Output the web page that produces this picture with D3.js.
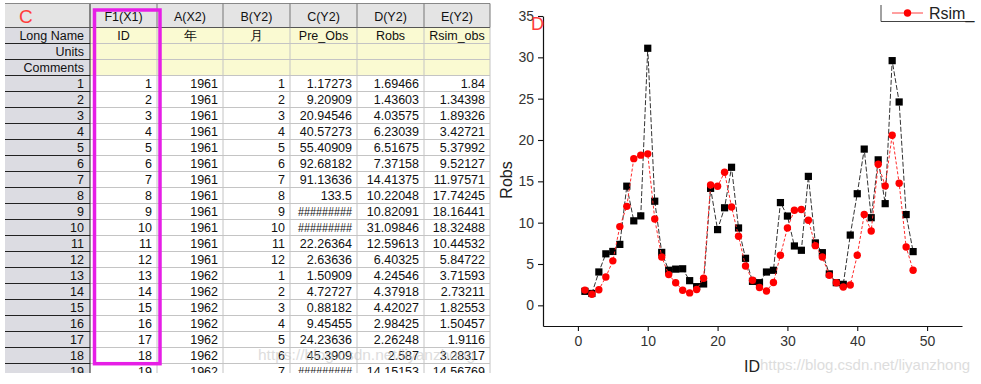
<!DOCTYPE html>
<html>
<head>
<meta charset="utf-8">
<script src="https://cdn.jsdelivr.net/npm/d3@7"></script>
<style>
body { margin: 0; background: #fff; }
svg { display: block; font-family: "Liberation Sans", Arial, sans-serif; }
</style>
</head>
<body>
<svg id="fig" width="981" height="384"></svg>
<script>
// worksheet (left panel)
var colHeads = ["F1(X1)", "A(X2)", "B(Y2)", "C(Y2)", "D(Y2)", "E(Y2)"];
var longNames = ["ID", "年", "月", "Pre_Obs", "Robs", "Rsim_obs"];
var metaRows = ["Long Name", "Units", "Comments"];
var years = [1961, 1961, 1961, 1961, 1961, 1961, 1961, 1961, 1961, 1961, 1961, 1961,
             1962, 1962, 1962, 1962, 1962, 1962, 1962];
var months = [1, 2, 3, 4, 5, 6, 7, 8, 9, 10, 11, 12, 1, 2, 3, 4, 5, 6, 7];
var preObs = ["1.17273", "9.20909", "20.94546", "40.57273", "55.40909", "92.68182", "91.13636",
              "133.5", "#########", "#########", "22.26364", "2.63636", "1.50909", "4.72727",
              "0.88182", "9.45455", "24.23636", "45.3909", "#########"];

// plot data (right panel)
var ids = [1, 2, 3, 4, 5, 6, 7, 8, 9, 10, 11, 12, 13, 14, 15, 16, 17, 18, 19, 20, 21, 22, 23, 24,
           25, 26, 27, 28, 29, 30, 31, 32, 33, 34, 35, 36, 37, 38, 39, 40, 41, 42, 43, 44, 45, 46, 47, 48];
var robs = [1.69466, 1.43603, 4.03575, 6.23039, 6.51675, 7.37158, 14.41375, 10.22048, 10.82091,
            31.09846, 12.59613, 6.40325, 4.24546, 4.37918, 4.42027, 2.98425, 2.26248, 2.587,
            14.15153, 9.16, 11.8, 16.7, 9.36, 5.69, 2.9, 2.74, 4.03, 4.24, 12.43, 10.8, 7.18, 6.66,
            15.6, 7.55, 6.37, 3.8, 2.74, 2.54, 8.5, 13.5, 18.9, 10.6, 17.6, 12.3, 29.6, 24.6, 10.98, 6.5];
var rsim = [1.84, 1.34398, 1.89326, 3.42721, 5.37992, 9.52127, 11.97571, 17.74245, 18.16441,
            18.32488, 10.44532, 5.84722, 3.71593, 2.73211, 1.82553, 1.50457, 1.9116, 3.28317,
            14.56769, 14.4, 16.1, 11.9, 8.35, 4.76, 3.03, 2.15, 1.74, 2.76, 6.05, 9.36, 11.5, 11.6,
            10.3, 7.22, 5.85, 3.63, 2.74, 2.22, 2.46, 6.05, 10.98, 9.0, 17.07, 14.45, 20.58, 14.77, 7.06, 4.24];
var xTicks = [0, 10, 20, 30, 40, 50];
var xMinor = [-5, 5, 15, 25, 35, 45, 55];
var yTicks = [0, 5, 10, 15, 20, 25, 30, 35];
var yMinor = [-2.5, 2.5, 7.5, 12.5, 17.5, 22.5, 27.5, 32.5];

var svg = d3.select("#fig");

// ---------- worksheet ----------
var colX = [5, 90, 157, 223, 290, 357, 424, 490];
var headTop = 3.5, headBot = 27.5, rowH = 16;
var metaTop = headBot, dataTop = headBot + rowH * metaRows.length;

svg.append("clipPath").attr("id", "sheetClip")
  .append("rect").attr("x", 0).attr("y", 0).attr("width", 495).attr("height", 373);
var sheet = svg.append("g").attr("clip-path", "url(#sheetClip)").style("font-size", "12.5px");

var rows = [];
for (var i = 0; i < years.length; i++) {
  rows.push([String(ids[i]), String(years[i]), String(months[i]), preObs[i], String(robs[i]), String(rsim[i])]);
}

// backgrounds
sheet.append("rect").attr("x", colX[0]).attr("y", headTop).attr("width", colX[7] - colX[0])
  .attr("height", headBot - headTop).attr("fill", "#e4e4e4");
sheet.append("rect").attr("x", colX[0]).attr("y", headBot).attr("width", colX[1] - colX[0])
  .attr("height", 384).attr("fill", "#dcdce2");
sheet.append("rect").attr("x", colX[1]).attr("y", metaTop).attr("width", colX[7] - colX[1])
  .attr("height", rowH * metaRows.length).attr("fill", "#fafad2");

// light grid in cell area
var nLines = metaRows.length + rows.length + 1;
var hl = [];
for (var k = 0; k <= nLines; k++) hl.push(metaTop + rowH * k);
sheet.selectAll(".hgrid").data(hl).enter().append("line")
  .attr("x1", colX[1]).attr("x2", colX[7]).attr("y1", d => d).attr("y2", d => d)
  .attr("stroke", "#c4c4c4").attr("stroke-width", 1);
sheet.selectAll(".vgrid").data(colX.slice(2)).enter().append("line")
  .attr("x1", d => d).attr("x2", d => d).attr("y1", headBot).attr("y2", 384)
  .attr("stroke", "#c4c4c4").attr("stroke-width", 1);
// dark lines in row header
sheet.selectAll(".hdark").data(hl).enter().append("line")
  .attr("x1", colX[0]).attr("x2", colX[1]).attr("y1", d => d).attr("y2", d => d)
  .attr("stroke", "#222").attr("stroke-width", 1);
sheet.append("line").attr("x1", colX[1]).attr("x2", colX[1]).attr("y1", headTop).attr("y2", 384)
  .attr("stroke", "#222").attr("stroke-width", 1);
// header borders
sheet.append("line").attr("x1", colX[0]).attr("x2", colX[7]).attr("y1", headTop).attr("y2", headTop)
  .attr("stroke", "#888");
sheet.append("line").attr("x1", colX[0]).attr("x2", colX[7]).attr("y1", headBot).attr("y2", headBot)
  .attr("stroke", "#555");
sheet.selectAll(".vhead").data(colX.slice(2)).enter().append("line")
  .attr("x1", d => d).attr("x2", d => d).attr("y1", headTop).attr("y2", headBot)
  .attr("stroke", "#777");

// header texts
sheet.append("text").attr("x", 19).attr("y", 23).attr("fill", "#ff3c3c")
  .style("font-size", "19px").text("C");
sheet.selectAll(".chead").data(colHeads).enter().append("text")
  .attr("x", (d, j) => (colX[j + 1] + colX[j + 2]) / 2).attr("y", headBot - 7)
  .attr("text-anchor", "middle").attr("fill", "#111").text(d => d);
sheet.selectAll(".lname").data(longNames).enter().append("text")
  .attr("x", (d, j) => (colX[j + 1] + colX[j + 2]) / 2).attr("y", metaTop + rowH - 3.5)
  .attr("text-anchor", "middle").attr("fill", "#111").text(d => d);
sheet.selectAll(".meta").data(metaRows).enter().append("text")
  .attr("x", colX[1] - 6).attr("y", (d, k) => metaTop + rowH * (k + 1) - 3.5)
  .attr("text-anchor", "end").attr("fill", "#111").text(d => d);

// data rows
var rg = sheet.selectAll(".row").data(rows).enter().append("g")
  .attr("transform", (d, i) => "translate(0," + (dataTop + rowH * (i + 1) - 3.5) + ")");
rg.append("text").attr("x", colX[1] - 6).attr("text-anchor", "end").attr("fill", "#111")
  .text((d, i) => i + 1);
rg.selectAll("text.cell").data(d => d).enter().append("text").attr("class", "cell")
  .attr("x", (d, j) => colX[j + 2] - 5).attr("text-anchor", "end").attr("fill", "#111")
  .each(function (d) {
    // overflowing cells show hashes squeezed into the column
    if (d.charAt(0) === "#") d3.select(this).attr("textLength", 54).attr("lengthAdjust", "spacingAndGlyphs");
  })
  .text(d => d);

// selection box
sheet.append("rect").attr("x", 94.5).attr("y", 10).attr("width", 65.5).attr("height", 353.7)
  .attr("fill", "none").attr("stroke", "#e61ee6").attr("stroke-width", 3.5);

svg.append("text").attr("x", 258).attr("y", 360).attr("fill", "#c8c8c8").attr("opacity", 0.6)
  .style("font-size", "15.5px").text("https://blog.csdn.net/liyanzhong");

// ---------- plot ----------
var x = d3.scaleLinear().domain([-5, 55]).range([543, 962]);
var y = d3.scaleLinear().domain([-2.5, 35]).range([326, 16]);
var plot = svg.append("g");

var gx = plot.append("g").attr("transform", "translate(0," + y(-2.5) + ")");
gx.call(d3.axisBottom(x).tickValues(xMinor).tickSize(3).tickFormat("").tickSizeOuter(0));
gx.call(d3.axisBottom(x).tickValues(xTicks).tickSize(5).tickPadding(5).tickSizeOuter(0));
var gy = plot.append("g").attr("transform", "translate(" + x(-5) + ",0)");
gy.call(d3.axisLeft(y).tickValues(yMinor).tickSize(3).tickFormat("").tickSizeOuter(0));
gy.call(d3.axisLeft(y).tickValues(yTicks).tickSize(5).tickPadding(4).tickSizeOuter(0));
plot.selectAll(".domain").attr("stroke", "#111").attr("stroke-width", 1.2);
plot.selectAll(".tick line").attr("stroke", "#111").attr("stroke-width", 1.1);
plot.selectAll(".tick text").attr("fill", "#333").style("font-size", "14px")
  .style("font-family", "'Liberation Sans', Arial, sans-serif");

plot.append("text").attr("transform", "translate(512,180) rotate(-90)").attr("text-anchor", "middle")
  .attr("fill", "#222").style("font-size", "16px").text("Robs");
plot.append("text").attr("x", 752).attr("y", 372).attr("text-anchor", "middle")
  .attr("fill", "#222").style("font-size", "16px").text("ID");
plot.append("text").attr("x", 531).attr("y", 30).attr("fill", "#ff3c3c")
  .style("font-size", "18px").text("D");

var robsPts = ids.map((d, i) => ({ id: d, v: robs[i] }));
var rsimPts = ids.map((d, i) => ({ id: d, v: rsim[i] }));
var line = d3.line().x(d => x(d.id)).y(d => y(d.v));

plot.append("path").datum(robsPts).attr("d", line).attr("fill", "none")
  .attr("stroke", "#333").attr("stroke-width", 1).attr("stroke-dasharray", "5,2");
plot.selectAll(".sq").data(robsPts).enter().append("rect")
  .attr("x", d => x(d.id) - 3.6).attr("y", d => y(d.v) - 3.6)
  .attr("width", 7.2).attr("height", 7.2).attr("fill", "#000");
plot.append("path").datum(rsimPts).attr("d", line).attr("fill", "none")
  .attr("stroke", "#ff2a2a").attr("stroke-width", 1).attr("stroke-dasharray", "3,2");
plot.selectAll(".ci").data(rsimPts).enter().append("circle")
  .attr("cx", d => x(d.id)).attr("cy", d => y(d.v)).attr("r", 3.7).attr("fill", "#ff0000");

// legend
var lg = plot.append("g");
lg.append("path").attr("d", "M881,5V21.5H970").attr("fill", "none").attr("stroke", "#444");
lg.append("line").attr("x1", 892).attr("x2", 923).attr("y1", 13).attr("y2", 13)
  .attr("stroke", "#ff4040").attr("stroke-width", 1);
lg.append("circle").attr("cx", 907.5).attr("cy", 13).attr("r", 3.7).attr("fill", "#ff0000");
lg.append("text").attr("x", 929).attr("y", 19).attr("fill", "#222").style("font-size", "16px").text("Rsim_");

svg.append("text").attr("x", 760).attr("y", 370).attr("fill", "#c8c8c8").attr("opacity", 0.6)
  .style("font-size", "15px").text("https://blog.csdn.net/liyanzhong");
</script>
</body>
</html>
